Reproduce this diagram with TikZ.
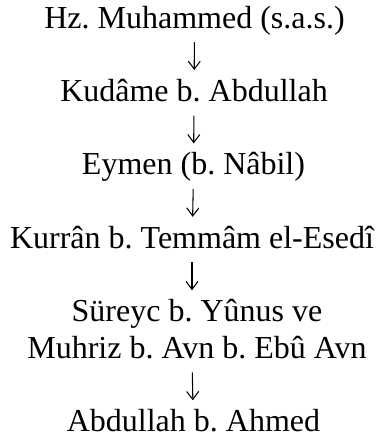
\documentclass[tikz,border=0pt]{standalone}
\usepackage{fontspec}
\setmainfont{Liberation Serif}
\usetikzlibrary{arrows.meta}
\frenchspacing
\begin{document}
\begin{tikzpicture}[x=0.75pt, y=-0.75pt,
  entry/.style = {font=\fontsize{24}{27.5}\selectfont, inner sep=0pt, align=center, anchor=base},
  arr/.style = {-{Straight Barb[length=6pt,width=9pt]}, line width=0.8pt, shorten <=10.65pt, shorten >=23.55pt}]
\useasboundingbox (0,0) rectangle (377,443);
\node[entry] (hz) at (194.5,28) {Hz. Muhammed (s.a.s.)};
\node[entry] (kudame) at (194,101.4) {Kudâme b. Abdullah};
\node[entry] (eymen) at (193.5,174.8) {Eymen (b. Nâbil)};
\node[entry] (kurran) at (192,248.2) {Kurrân b. Temmâm el-Esedî};
\node[entry] (sureyc) at (197,358.3) {Süreyc b. Yûnus ve\\Muhriz b. Avn b. Ebû Avn};
\node[entry] (abdullah) at (193.5,431.7) {Abdullah b. Ahmed};
\draw[arr] (hz.base) -- (kudame.base);
\draw[arr] (kudame.base) -- (eymen.base);
\draw[arr] (eymen.base) -- (kurran.base);
\draw[arr, shorten >=51.05pt] (kurran.base) -- (kurran.base |- sureyc.base);
\draw[arr] (kurran.base |- sureyc.base) -- (abdullah.base);
\end{tikzpicture}
\end{document}
